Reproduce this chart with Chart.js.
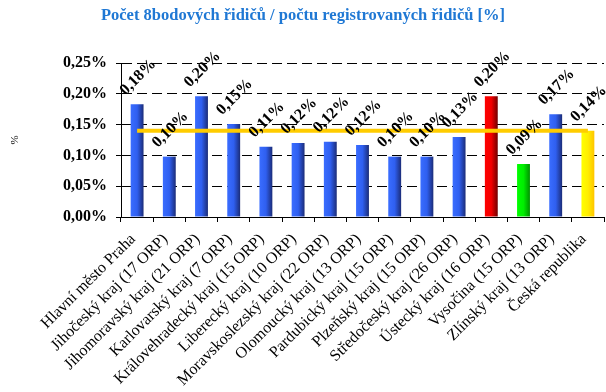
<!DOCTYPE html>
<html lang="cs">
<head>
<meta charset="utf-8">
<title>Počet 8bodových řidičů</title>
<script src="https://cdn.jsdelivr.net/npm/chart.js@4/dist/chart.umd.min.js"></script>
<style>
  html, body { margin: 0; padding: 0; background: #fff; overflow: hidden; }
  #wrap { width: 606px; height: 392px; }
</style>
</head>
<body>
<div id="wrap"><canvas id="ridici" width="606" height="392"></canvas></div>
<script>
// kraje + ČR
const regions = [
  'Hlavní město Praha',
  'Jihočeský kraj (17 ORP)',
  'Jihomoravský kraj (21 ORP)',
  'Karlovarský kraj (7 ORP)',
  'Královehradecký kraj (15 ORP)',
  'Liberecký kraj (10 ORP)',
  'Moravskoslezský kraj (22 ORP)',
  'Olomoucký kraj (13 ORP)',
  'Pardubický kraj (15 ORP)',
  'Plzeňský kraj (15 ORP)',
  'Středočeský kraj (26 ORP)',
  'Ústecký kraj (16 ORP)',
  'Vysočina (15 ORP)',
  'Zlínský kraj (13 ORP)',
  'Česká republika'
];
// podíl 8bodových řidičů v %
const share = [0.183, 0.098, 0.196, 0.151, 0.114, 0.120, 0.122, 0.117, 0.098, 0.098, 0.130, 0.196, 0.086, 0.167, 0.140];
// průměr ČR
const average = [0.14, 0.14, 0.14, 0.14, 0.14, 0.14, 0.14, 0.14, 0.14, 0.14, 0.14, 0.14, 0.14, 0.14, 0.14];
const yTicks = [0, 0.05, 0.10, 0.15, 0.20, 0.25];

// barva sloupce: max = červená, min = zelená, ČR = žlutá
const barKind = ['b', 'b', 'b', 'b', 'b', 'b', 'b', 'b', 'b', 'b', 'b', 'r', 'g', 'b', 'y'];
const ramps = {
  b: ['#3a6dff', '#2f5ff0', '#1b2c78'],
  r: ['#ff0000', '#f20000', '#700000'],
  g: ['#00ff00', '#00ee00', '#009000'],
  y: ['#ffff00', '#ffee00', '#ffc400']
};

const fmt = v => v.toFixed(2).replace('.', ',') + '%';

function barFill(c) {
  const kind = ramps[barKind[c.dataIndex]] || ramps.b;
  const x = c.chart.scales && c.chart.scales.x;
  if (c.type !== 'data' || !x) return kind[1];
  const cx = x.getPixelForValue(c.dataIndex);
  const w = x.width / regions.length * 0.4;
  if (!Number.isFinite(cx) || !Number.isFinite(w) || w <= 0) return kind[1];
  const g = c.chart.ctx.createLinearGradient(cx - w / 2, 0, cx + w / 2, 0);
  g.addColorStop(0, kind[0]);
  g.addColorStop(0.5, kind[1]);
  g.addColorStop(1, kind[2]);
  return g;
}

const titlePlugin = {
  id: 'nadpis',
  afterDraw(chart) {
    const ctx = chart.ctx;
    ctx.save();
    ctx.font = 'bold 16.5px "Liberation Serif"';
    ctx.fillStyle = '#1f78d4';
    ctx.textAlign = 'center';
    ctx.textBaseline = 'middle';
    ctx.fillText('Počet 8bodových řidičů / počtu registrovaných řidičů [%]', chart.width / 2, 16);
    ctx.restore();
  }
};

const valueLabels = {
  id: 'hodnoty',
  afterDatasetsDraw(chart) {
    const meta = chart.getDatasetMeta(1);
    const ctx = chart.ctx;
    ctx.save();
    ctx.font = 'bold 16px "Liberation Serif"';
    ctx.fillStyle = '#000';
    ctx.textAlign = 'center';
    ctx.textBaseline = 'middle';
    meta.data.forEach((bar, i) => {
      ctx.save();
      ctx.translate(bar.x + 1, bar.y - 27);
      ctx.rotate(-Math.PI / 4);
      ctx.fillText(fmt(share[i]), 0, 0);
      ctx.restore();
    });
    ctx.restore();
  }
};

const chart = new Chart(document.getElementById('ridici'), {
  data: {
    labels: regions,
    datasets: [
      {
        type: 'line',
        label: 'Česká republika',
        data: average,
        borderColor: '#ffcc00',
        borderWidth: 4,
        pointRadius: 0,
        order: 0
      },
      {
        type: 'bar',
        label: 'Podíl',
        data: share,
        backgroundColor: barFill,
        borderWidth: 0,
        categoryPercentage: 1,
        barPercentage: 0.4,
        order: 1
      }
    ]
  },
  options: {
    responsive: false,
    animation: false,
    layout: { padding: { top: 63, left: 0, right: 0, bottom: 0 } },
    plugins: {
      legend: { display: false },
      title: { display: false },
      tooltip: { enabled: false }
    },
    scales: {
      x: {
        offset: true,
        grid: { drawOnChartArea: false, drawTicks: true, tickLength: 5, color: '#000' },
        border: { color: '#000', width: 1 },
        ticks: {
          autoSkip: false,
          minRotation: 45,
          maxRotation: 45,
          padding: 8,
          labelOffset: -4,
          color: '#000',
          font: { family: '"Liberation Serif"', size: 16 }
        },
        afterFit(scale) {
          scale.height = 175;
          scale.paddingLeft = 0;
          scale.paddingRight = 0;
        }
      },
      y: {
        min: 0,
        max: 0.25,
        afterBuildTicks(scale) {
          scale.ticks = yTicks.map(v => ({ value: v }));
        },
        grid: { color: '#000', lineWidth: 1, tickLength: 5, tickColor: '#000' },
        border: { color: '#000', width: 1, dash: [10, 5] },
        ticks: {
          padding: 9,
          color: '#000',
          font: { family: '"Liberation Serif"', size: 16, weight: 'bold' },
          callback: v => fmt(v)
        },
        title: {
          display: true,
          text: '%',
          color: '#000',
          padding: { top: 9, bottom: 0 },
          font: { family: '"Liberation Serif"', size: 11 }
        },
        afterFit(scale) {
          scale.width = 121;
        }
      }
    }
  },
  plugins: [titlePlugin, valueLabels]
});
// gradienty se počítají až z rozložené osy
chart.update();
</script>
</body>
</html>
